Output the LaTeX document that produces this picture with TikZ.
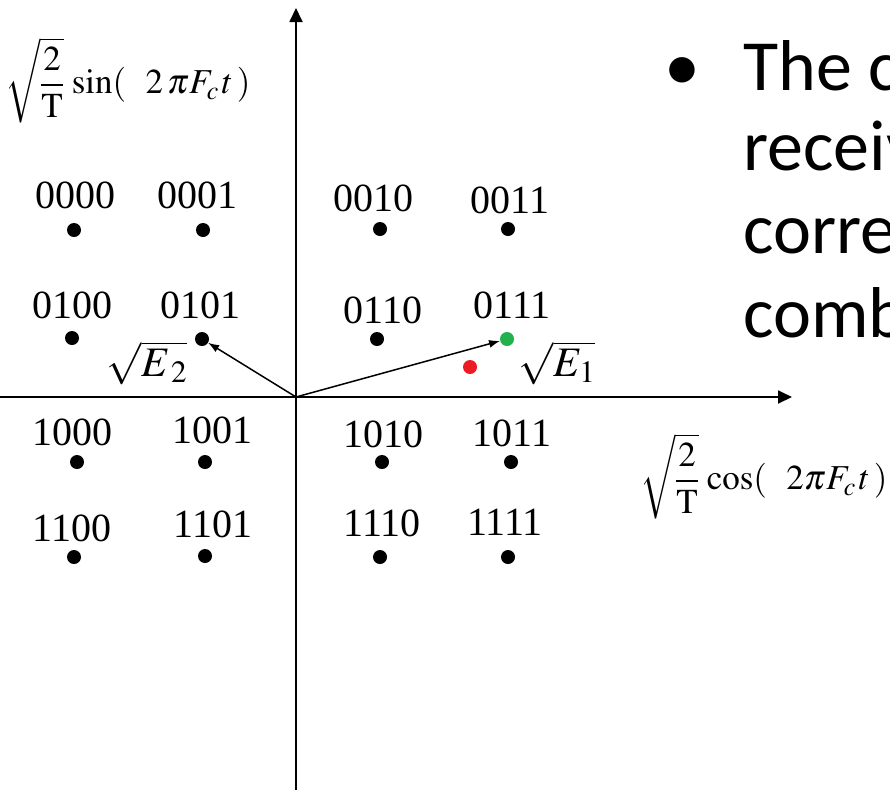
\documentclass[tikz,border=0pt]{standalone}
\usepackage{mathptmx}
\usepackage{amsmath}
\usepackage{fontspec}
\setmainfont{Liberation Serif}
\newfontfamily\slidefont{Carlito}
\usetikzlibrary{arrows.meta}

\definecolor{ptgreen}{RGB}{34,177,76}
\definecolor{ptred}{RGB}{237,28,36}

\begin{document}
\begin{tikzpicture}[
  x=1pt, y=-1pt,
  axis/.style={line width=1.8pt, -{Triangle[length=14pt, width=13pt]}},
  vec/.style={line width=1.5pt, -{Latex[length=11pt, width=8pt]}},
  pt/.style={circle, fill=black, minimum size=14pt, inner sep=0pt},
  lab/.style={font=\fontsize{40}{42}\selectfont, inner sep=0pt},
  basis/.style={font=\fontsize{35}{38}\selectfont, inner sep=0pt, anchor=west},
  slide/.style={font=\slidefont\fontsize{72}{80}\selectfont, anchor=base west, inner sep=0pt}
]
\useasboundingbox (0,0) rectangle (890,790);
% axes
\coordinate (O) at (296,397);
\coordinate (ybot) at (296,790);
\coordinate (ytop) at (296,8);
\coordinate (xleft) at (0,397);
\coordinate (xright) at (792,397);
\draw[axis] (ybot) -- (ytop);
\draw[axis] (xleft) -- (xright);
% constellation points: bits / dot x / dot y / label x / label y
\foreach \b/\x/\y/\lx/\ly in {0000/74/230/75/195, 0001/203/230/197/195, 0010/380/229/373/198, 0011/508/229/510/200,
  0100/72/338/72/305, 0101/202/339/200/305, 0110/377/339/383/310,
  1000/77/462/72/432, 1001/205/462/212/430, 1010/382/462/383/434, 1011/511/462/512/433,
  1100/74/557/72/528, 1101/205/556/213/524, 1110/380/557/382/523, 1111/508/557/505/522} {
  \node[pt] (p\b) at (\x,\y) {};
  \node[lab] (l\b) at (\lx,\ly) {\b};
}
\node[pt, fill=ptgreen] (p0111) at (507,339) {};
\node[lab] (l0111) at (512,305) {0111};
\node[pt, fill=ptred] (rx) at (470,367) {};
% signal vectors
\draw[vec] (O) -- (p0101);
\draw[vec] (O) -- (p0111);
\node[font=\fontsize{42}{44}\selectfont, inner sep=0pt] (e2) at (147,363) {$\sqrt{E_{\,2}}$};
\node[font=\fontsize{42}{44}\selectfont, inner sep=0pt] (e1) at (557,363) {$\sqrt{E_1}$};
% basis functions
\node[basis] (sinlab) at (5,80) {$\sqrt{\dfrac{2}{\mathrm{T}}}\,\sin(\;\;\,2\,\pi F_{c\,} t\,)$};
\node[basis] (coslab) at (640,476) {$\sqrt{\dfrac{2}{\mathrm{T}}}\,\cos(\;\;\,2\pi F_{c\,}t\,)$};
% slide text
\node[slide, anchor=base] (bul) at (682,90) {\textbullet};
\node[slide] (t1) at (743,90) {The c};
\node[slide] (t2) at (743,170) {receiv};
\node[slide] (t3) at (743,253) {corre};
\node[slide] (t4) at (743,337) {comb};
\end{tikzpicture}
\end{document}
